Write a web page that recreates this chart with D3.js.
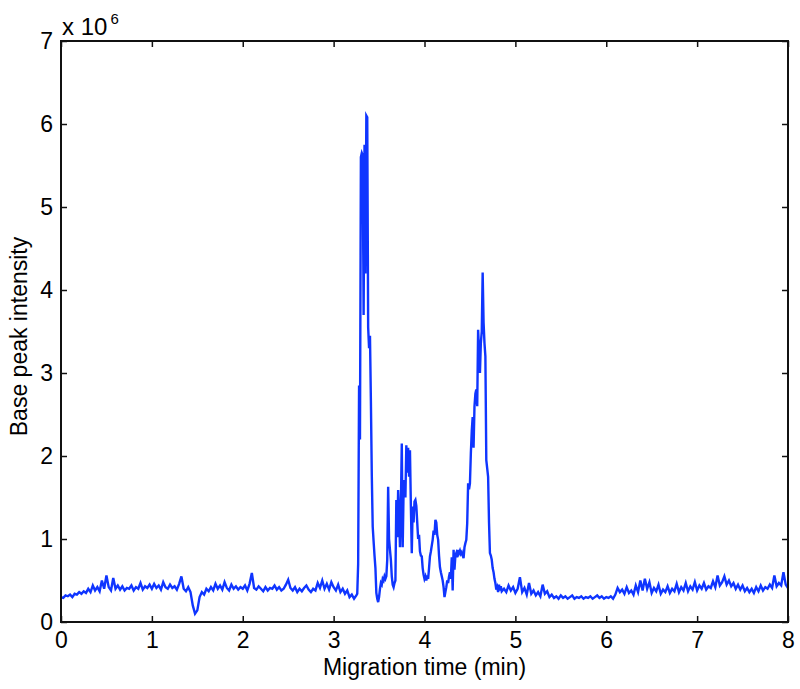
<!DOCTYPE html>
<html><head><meta charset="utf-8">
<script src="https://cdn.jsdelivr.net/npm/d3@7"></script>
<style>
body{margin:0;background:#fff}
svg{display:block}
text{font-family:"Liberation Sans",Arial,Helvetica,sans-serif}
</style>
</head><body>
<svg id="chart" width="800" height="689"></svg>
<script>
// ---- data (time in min, intensity in units of 1e6) ----
const xTicks = [0,1,2,3,4,5,6,7,8];
const yTicks = [0,1,2,3,4,5,6,7];
const xLabel = "Migration time (min)";
const yLabel = "Base peak intensity";
const exponentBase = "x 10";
const exponentPower = "6";

const baselineBefore = [
[0,0.30],[0.025,0.29],[0.05,0.32],[0.075,0.31],[0.1,0.33],[0.125,0.30],[0.15,0.34],[0.175,0.33],[0.2,0.36],[0.225,0.34],
[0.25,0.37],[0.275,0.35],[0.3,0.40],[0.325,0.36],[0.35,0.44],[0.375,0.38],[0.4,0.42],[0.425,0.37],[0.45,0.50],[0.475,0.40],
[0.5,0.56],[0.525,0.42],[0.55,0.38],[0.575,0.53],[0.6,0.40],[0.625,0.44],[0.65,0.39],[0.675,0.43],[0.7,0.38],[0.725,0.41],
[0.75,0.40],[0.775,0.44],[0.8,0.38],[0.825,0.42],[0.85,0.40],[0.875,0.47],[0.9,0.39],[0.925,0.43],[0.95,0.41],[0.975,0.45],
[1,0.40],[1.025,0.46],[1.05,0.41],[1.075,0.44],[1.1,0.39],[1.125,0.48],[1.15,0.42],[1.175,0.40],[1.2,0.45],[1.225,0.41],
[1.25,0.43],[1.275,0.39],[1.3,0.46],[1.325,0.55],[1.35,0.40],[1.375,0.37],[1.4,0.42],[1.425,0.36],[1.45,0.20],[1.475,0.10],
[1.5,0.14],[1.525,0.30],[1.55,0.36],[1.575,0.33],[1.6,0.40],[1.625,0.37],[1.65,0.42],[1.675,0.38],[1.7,0.46],[1.725,0.40],
[1.75,0.44],[1.775,0.39],[1.8,0.48],[1.825,0.41],[1.85,0.38],[1.875,0.45],[1.9,0.40],[1.925,0.43],[1.95,0.39],[1.975,0.42],
[2,0.40],[2.025,0.44],[2.05,0.38],[2.075,0.46],[2.1,0.59],[2.125,0.41],[2.15,0.39],[2.175,0.43],[2.2,0.40],[2.225,0.37],
[2.25,0.42],[2.275,0.38],[2.3,0.41],[2.325,0.40],[2.35,0.44],[2.375,0.39],[2.4,0.42],[2.425,0.38],[2.45,0.40],[2.475,0.45],
[2.5,0.51],[2.525,0.41],[2.55,0.38],[2.575,0.42],[2.6,0.36],[2.625,0.40],[2.65,0.37],[2.675,0.41],[2.7,0.44],[2.725,0.39],
[2.75,0.36],[2.775,0.40],[2.8,0.38],[2.825,0.47],[2.85,0.41],[2.875,0.50],[2.9,0.40],[2.925,0.46],[2.95,0.39],[2.975,0.48],
[3,0.42],[3.025,0.38],[3.05,0.45],[3.075,0.36],[3.1,0.40],[3.125,0.34],[3.15,0.38],[3.175,0.30],[3.2,0.33],[3.225,0.28],
[3.25,0.32]
];

const peakRegion = [
[3.26,0.34],[3.27,0.70],[3.28,2.85],[3.29,2.20],[3.30,5.60],[3.31,5.65],[3.32,5.62],[3.33,3.70],[3.34,5.75],[3.35,4.20],
[3.36,6.10],[3.37,6.08],[3.38,3.55],[3.39,3.30],[3.40,3.45],[3.41,2.67],[3.42,1.77],[3.43,1.15],[3.44,0.97],[3.45,0.80],
[3.46,0.65],[3.47,0.35],[3.48,0.28],[3.49,0.24],[3.50,0.30],[3.51,0.40],[3.52,0.47],[3.53,0.45],[3.54,0.52],[3.55,0.50],
[3.56,0.55],[3.57,0.52],[3.58,0.55],[3.59,0.75],[3.60,1.63],[3.61,1.00],[3.62,0.87],[3.63,0.75],[3.64,0.55],[3.65,0.45],
[3.66,0.42],[3.67,0.47],[3.68,0.50],[3.69,1.47],[3.70,1.02],[3.71,1.59],[3.72,1.31],[3.73,0.90],[3.74,1.40],[3.75,2.15],
[3.76,0.90],[3.77,1.59],[3.78,1.71],[3.79,1.50],[3.80,2.13],[3.81,1.80],[3.82,2.10],[3.83,1.75],[3.84,2.07],[3.85,1.40],
[3.86,0.83],[3.87,1.39],[3.88,1.20],[3.89,1.45],[3.90,1.47],[3.91,1.40],[3.92,1.20],[3.93,1.00],[3.94,1.05],[3.95,0.85],
[3.96,0.80],[3.97,0.79],[3.98,0.65],[3.99,0.57],[4.00,0.52],[4.01,0.55],[4.02,0.50],[4.03,0.56],[4.04,0.52],[4.05,0.65],
[4.06,0.79],[4.07,0.85],[4.08,0.92],[4.09,0.99],[4.10,1.10],[4.11,1.05],[4.12,1.23],[4.13,1.20],[4.14,1.05],[4.15,0.99],
[4.16,0.80],[4.17,0.66],[4.18,0.60],[4.19,0.55],[4.20,0.50],[4.21,0.42],[4.22,0.30],[4.23,0.36],[4.24,0.42],[4.25,0.50],
[4.26,0.47],[4.27,0.55],[4.28,0.60],[4.29,0.52],[4.30,0.78],[4.31,0.38],[4.32,0.87],[4.33,0.63],[4.34,0.80],[4.35,0.83],
[4.36,0.78],[4.37,0.87],[4.38,0.83],[4.39,0.86],[4.40,0.82],[4.41,0.84],[4.42,0.80],[4.43,0.77],[4.44,0.90],[4.45,0.95],
[4.46,0.99],[4.47,1.19],[4.48,1.67],[4.49,1.60],[4.50,1.67],[4.51,2.03],[4.52,2.30],[4.53,2.47],[4.54,2.10],[4.55,2.60],
[4.56,2.75],[4.57,2.80],[4.58,2.60],[4.59,3.52],[4.60,3.28],[4.61,3.00],[4.62,3.36],[4.63,3.50],[4.64,4.21],[4.65,3.61],
[4.66,3.36],[4.67,3.20],[4.68,1.95],[4.69,1.85],[4.70,1.75],[4.71,1.20],[4.72,0.83],[4.73,0.80],[4.74,0.75],[4.75,0.65],
[4.76,0.60],[4.77,0.52],[4.78,0.47],[4.79,0.39],[4.80,0.42],[4.81,0.36],[4.82,0.45],[4.83,0.38],[4.84,0.43],[4.85,0.37]
];

const baselineAfter = [
[4.875,0.40],[4.9,0.36],[4.925,0.44],[4.95,0.38],[4.975,0.42],[5,0.35],[5.025,0.40],[5.05,0.54],[5.075,0.36],[5.1,0.41],
[5.125,0.33],[5.15,0.47],[5.175,0.34],[5.2,0.38],[5.225,0.32],[5.25,0.36],[5.275,0.31],[5.3,0.45],[5.325,0.34],[5.35,0.37],
[5.375,0.30],[5.4,0.33],[5.425,0.29],[5.45,0.31],[5.475,0.28],[5.5,0.32],[5.525,0.29],[5.55,0.31],[5.575,0.28],[5.6,0.30],
[5.625,0.32],[5.65,0.28],[5.675,0.30],[5.7,0.29],[5.725,0.31],[5.75,0.28],[5.775,0.30],[5.8,0.29],[5.825,0.31],[5.85,0.28],
[5.875,0.30],[5.9,0.32],[5.925,0.29],[5.95,0.31],[5.975,0.28],[6,0.30],[6.025,0.29],[6.05,0.31],[6.075,0.28],[6.1,0.33],
[6.125,0.41],[6.15,0.36],[6.175,0.39],[6.2,0.34],[6.225,0.42],[6.25,0.35],[6.275,0.38],[6.3,0.33],[6.325,0.44],[6.35,0.36],
[6.375,0.50],[6.4,0.38],[6.425,0.52],[6.45,0.40],[6.475,0.48],[6.5,0.35],[6.525,0.41],[6.55,0.37],[6.575,0.45],[6.6,0.34],
[6.625,0.39],[6.65,0.36],[6.675,0.43],[6.7,0.35],[6.725,0.40],[6.75,0.37],[6.775,0.46],[6.8,0.36],[6.825,0.42],[6.85,0.38],
[6.875,0.47],[6.9,0.37],[6.925,0.43],[6.95,0.39],[6.975,0.48],[7,0.38],[7.025,0.44],[7.05,0.40],[7.075,0.47],[7.1,0.39],
[7.125,0.43],[7.15,0.41],[7.175,0.49],[7.2,0.42],[7.225,0.56],[7.25,0.44],[7.275,0.48],[7.3,0.55],[7.325,0.45],[7.35,0.50],
[7.375,0.43],[7.4,0.47],[7.425,0.40],[7.45,0.45],[7.475,0.39],[7.5,0.44],[7.525,0.37],[7.55,0.41],[7.575,0.36],[7.6,0.40],
[7.625,0.35],[7.65,0.42],[7.675,0.37],[7.7,0.44],[7.725,0.38],[7.75,0.42],[7.775,0.40],[7.8,0.45],[7.825,0.41],[7.85,0.56],
[7.875,0.43],[7.9,0.47],[7.925,0.44],[7.95,0.60],[7.975,0.45],[8,0.41]
];

// ---- drawing ----
const series = baselineBefore.concat(peakRegion, baselineAfter);
const W = 800, H = 689;
const plot = {left: 61, right: 788, top: 41, bottom: 622};

const svg = d3.select("#chart");
svg.append("rect").attr("width", W).attr("height", H).attr("fill", "#fff");

const x = d3.scaleLinear().domain([0, 8]).range([plot.left, plot.right]);
const y = d3.scaleLinear().domain([0, 7]).range([plot.bottom, plot.top]);

const axisColor = "#111";
const tickFont = 23;
const labelFont = 23;

function styleAxis(g) {
  g.select(".domain").remove();
  g.selectAll(".tick line").attr("stroke", axisColor).attr("stroke-width", 1.5);
  g.selectAll(".tick text").attr("fill", "#000").attr("font-size", tickFont)
    .attr("font-family", '"Liberation Sans", Arial, sans-serif');
}

svg.append("g").attr("transform", `translate(0,${plot.bottom})`)
  .call(d3.axisBottom(x).tickValues(xTicks).tickSize(-6).tickPadding(10).tickFormat(d3.format("d")))
  .call(styleAxis);
svg.append("g").attr("transform", `translate(0,${plot.top})`)
  .call(d3.axisTop(x).tickValues(xTicks).tickSize(-6).tickFormat(""))
  .call(styleAxis);
svg.append("g").attr("transform", `translate(${plot.left},0)`)
  .call(d3.axisLeft(y).tickValues(yTicks).tickSize(-6).tickPadding(8).tickFormat(d3.format("d")))
  .call(styleAxis);
svg.append("g").attr("transform", `translate(${plot.right},0)`)
  .call(d3.axisRight(y).tickValues(yTicks).tickSize(-6).tickFormat(""))
  .call(styleAxis);

// clip
svg.append("clipPath").attr("id", "clip").append("rect")
  .attr("x", plot.left).attr("y", plot.top)
  .attr("width", plot.right - plot.left).attr("height", plot.bottom - plot.top);

const line = d3.line().x(d => x(d[0])).y(d => y(d[1]));
svg.append("path").datum(series)
  .attr("clip-path", "url(#clip)")
  .attr("d", line)
  .attr("fill", "none")
  .attr("stroke", "#0f35ff")
  .attr("stroke-width", 2.4)
  .attr("stroke-linejoin", "miter");

// frame
svg.append("rect")
  .attr("x", plot.left).attr("y", plot.top)
  .attr("width", plot.right - plot.left).attr("height", plot.bottom - plot.top)
  .attr("fill", "none").attr("stroke", axisColor).attr("stroke-width", 2);

// exponent label
const expText = svg.append("text").attr("x", plot.left + 1).attr("y", 35)
  .attr("font-size", 24).attr("fill", "#000");
expText.append("tspan").text(exponentBase);
expText.append("tspan").attr("font-size", 15).attr("dy", -11).attr("dx", 3).text(exponentPower);

// axis labels
svg.append("text").attr("x", (plot.left + plot.right) / 2).attr("y", 675)
  .attr("text-anchor", "middle").attr("font-size", labelFont).attr("fill", "#000")
  .text(xLabel);
svg.append("text").attr("transform", `translate(27,${(plot.top + plot.bottom) / 2 + 5}) rotate(-90)`)
  .attr("text-anchor", "middle").attr("font-size", labelFont).attr("fill", "#000")
  .text(yLabel);
</script>
</body></html>
